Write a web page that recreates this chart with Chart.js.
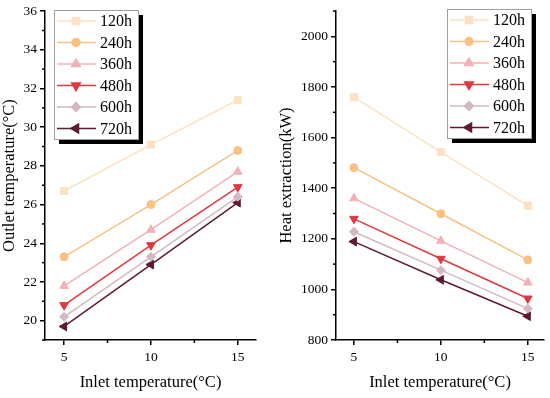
<!DOCTYPE html>
<html>
<head>
<meta charset="utf-8">
<script src="https://cdn.jsdelivr.net/npm/chart.js@4.4.0/dist/chart.umd.min.js"></script>
<style>
	html, body { margin: 0; padding: 0; background: #ffffff; }
	.wrap { display: flex; width: 550px; height: 398px; }
	.panel { position: relative; width: 275px; height: 398px; }
</style>
</head>
<body>
<div class="wrap">
	<div class="panel"><canvas id="outlet-chart" width="275" height="398"></canvas></div>
	<div class="panel"><canvas id="heat-chart" width="275" height="398"></canvas></div>
</div>
<script>
(function () {
	'use strict';

	var inletTemps = [5, 10, 15];
	var seriesLabels = ['120h', '240h', '360h', '480h', '600h', '720h'];

	var outlet120 = [26.7, 29.1, 31.4];
	var outlet240 = [23.3, 26.0, 28.8];
	var outlet360 = [21.8, 24.7, 27.7];
	var outlet480 = [20.8, 23.9, 26.9];
	var outlet600 = [20.2, 23.3, 26.4];
	var outlet720 = [19.7, 22.9, 26.1];

	var heat120 = [1760, 1543, 1331];
	var heat240 = [1481, 1299, 1117];
	var heat360 = [1360, 1192, 1027];
	var heat480 = [1279, 1121, 964];
	var heat600 = [1228, 1076, 924];
	var heat720 = [1189, 1038, 894];

	var xTicks = [5, 10, 15];
	var xMinorTicks = [7.5, 12.5];
	var outletTicks = [20, 22, 24, 26, 28, 30, 32, 34, 36];
	var outletMinorTicks = [19, 21, 23, 25, 27, 29, 31, 33, 35];
	var heatTicks = [800, 1000, 1200, 1400, 1600, 1800, 2000];
	var heatMinorTicks = [900, 1100, 1300, 1500, 1700, 1900, 2100];

	var colors = ['#fce2c4', '#f9c283', '#f4b0b4', '#e0383f', '#d4b8c2', '#5e1a33'];
	var pointStyles = ['rect', 'circle', 'triangle', 'triangle', 'rectRot', 'triangle'];
	var pointRotations = [0, 0, 0, 180, 0, 270];
	var pointRadii = [5, 4, 5, 5, 4.5, 5];

	var serif = '"Liberation Serif", "Times New Roman", serif';

	function buildDatasets(series) {
		return series.map(function (values, i) {
			return {
				label: seriesLabels[i],
				data: inletTemps.map(function (x, j) {
					return { x: x, y: values[j] };
				}),
				borderColor: colors[i],
				backgroundColor: colors[i],
				pointBackgroundColor: colors[i],
				pointBorderColor: colors[i],
				pointStyle: pointStyles[i],
				rotation: pointRotations[i],
				pointRadius: pointRadii[i],
				pointBorderWidth: 1,
				borderWidth: 1.5,
				tension: 0,
			};
		});
	}

	// short outward ticks between the labelled ones
	var minorTickPlugin = {
		id: 'minorTicks',
		afterDraw: function (chart) {
			var ctx = chart.ctx;
			ctx.save();
			ctx.strokeStyle = '#000000';
			ctx.lineWidth = 1.5;
			Object.keys(chart.scales).forEach(function (id) {
				var scale = chart.scales[id];
				var minor = scale.options.minorTicks || [];
				minor.forEach(function (v) {
					var p = scale.getPixelForValue(v);
					ctx.beginPath();
					if (scale.isHorizontal()) {
						ctx.moveTo(p, scale.top);
						ctx.lineTo(p, scale.top + 3);
					} else {
						ctx.moveTo(scale.right, p);
						ctx.lineTo(scale.right - 3, p);
					}
					ctx.stroke();
				});
			});
			ctx.restore();
		},
	};

	// boxed legend with a drop shadow, placed inside the plot area
	var boxLegendPlugin = {
		id: 'boxLegend',
		afterDraw: function (chart, args, opts) {
			var ctx = chart.ctx;
			var area = chart.chartArea;
			var w = 84;
			var h = 129;
			var left = opts.side === 'right' ? area.right - opts.inset - w : area.left + opts.inset;
			var top = opts.top;

			ctx.save();
			ctx.fillStyle = '#000000';
			ctx.fillRect(left + 5, top + 5, w, h);
			ctx.fillStyle = '#ffffff';
			ctx.fillRect(left, top, w, h);
			ctx.strokeStyle = '#a0a0a0';
			ctx.lineWidth = 1;
			ctx.strokeRect(left + 0.5, top + 0.5, w, h);

			ctx.font = '16px ' + serif;
			ctx.textBaseline = 'middle';
			ctx.textAlign = 'left';

			chart.data.datasets.forEach(function (ds, i) {
				var y = top + 11 + i * 21.5;
				ctx.strokeStyle = ds.borderColor;
				ctx.lineWidth = 1.5;
				ctx.beginPath();
				ctx.moveTo(left + 3, y);
				ctx.lineTo(left + 42, y);
				ctx.stroke();
				ctx.fillStyle = ds.backgroundColor;
				Chart.helpers.drawPoint(ctx, {
					pointStyle: ds.pointStyle,
					rotation: ds.rotation,
					radius: ds.pointRadius,
					borderWidth: 1,
				}, left + 22, y);
				ctx.fillStyle = '#000000';
				ctx.fillText(ds.label, left + 46, y + 1);
			});
			ctx.restore();
		},
	};

	function axisGrid() {
		return {
			display: true,
			drawOnChartArea: false,
			drawTicks: true,
			tickLength: 5,
			color: '#000000',
			lineWidth: 1.5,
		};
	}

	function setTicks(values) {
		return function (scale) {
			scale.ticks = values.map(function (v) {
				return { value: v };
			});
		};
	}

	function plainLabel(value) {
		return String(value);
	}

	function renderChart(canvasId, series, cfg) {
		var canvas = document.getElementById(canvasId);

		if (!canvas) {
			return null;
		}

		return new Chart(canvas, {
			type: 'line',
			data: {
				datasets: buildDatasets(series),
			},
			plugins: [minorTickPlugin, boxLegendPlugin],
			options: {
				responsive: false,
				animation: false,
				devicePixelRatio: 1,
				layout: {
					padding: { top: 11, right: cfg.padRight, left: 0, bottom: 0 },
				},
				plugins: {
					legend: { display: false },
					tooltip: { enabled: false },
					boxLegend: cfg.legend,
				},
				scales: {
					x: {
						type: 'linear',
						min: cfg.xMin,
						max: cfg.xMax,
						afterBuildTicks: setTicks(xTicks),
						afterFit: function (scale) {
							scale.height = 58;
						},
						minorTicks: xMinorTicks,
						grid: axisGrid(),
						border: { display: true, color: '#000000', width: 1.5 },
						ticks: {
							color: '#000000',
							padding: 4,
							maxRotation: 0,
							callback: plainLabel,
							font: { family: serif, size: 13.5 },
						},
						title: {
							display: true,
							text: 'Inlet temperature(°C)',
							color: '#000000',
							font: { family: serif, size: 16.5 },
							padding: { top: 0, bottom: 5 },
						},
					},
					y: {
						type: 'linear',
						min: cfg.yMin,
						max: cfg.yMax,
						afterBuildTicks: setTicks(cfg.yTicks),
						afterFit: function (scale) {
							scale.width = cfg.yWidth;
						},
						minorTicks: cfg.yMinor,
						grid: axisGrid(),
						border: { display: true, color: '#000000', width: 1.5 },
						ticks: {
							color: '#000000',
							padding: 3,
							callback: plainLabel,
							font: { family: serif, size: 13.5 },
						},
						title: {
							display: true,
							text: cfg.yTitle,
							color: '#000000',
							font: { family: serif, size: 16.5 },
							padding: { top: cfg.yTitlePad, bottom: 0 },
						},
					},
				},
			},
		});
	}

	renderChart('outlet-chart', [outlet120, outlet240, outlet360, outlet480, outlet600, outlet720], {
		padRight: 19,
		xMin: 3.9,
		xMax: 16.05,
		yMin: 19,
		yMax: 36,
		yTicks: outletTicks,
		yMinor: outletMinorTicks,
		yWidth: 45,
		yTitle: 'Outlet temperature(°C)',
		yTitlePad: 0,
		legend: { side: 'left', inset: 9, top: 10 },
	});

	renderChart('heat-chart', [heat120, heat240, heat360, heat480, heat600, heat720], {
		padRight: 6,
		xMin: 3.97,
		xMax: 15.93,
		yMin: 800,
		yMax: 2100,
		yTicks: heatTicks,
		yMinor: heatMinorTicks,
		yWidth: 61,
		yTitle: 'Heat extraction(kW)',
		yTitlePad: 2,
		legend: { side: 'right', inset: 13, top: 9 },
	});
})();
</script>
</body>
</html>
